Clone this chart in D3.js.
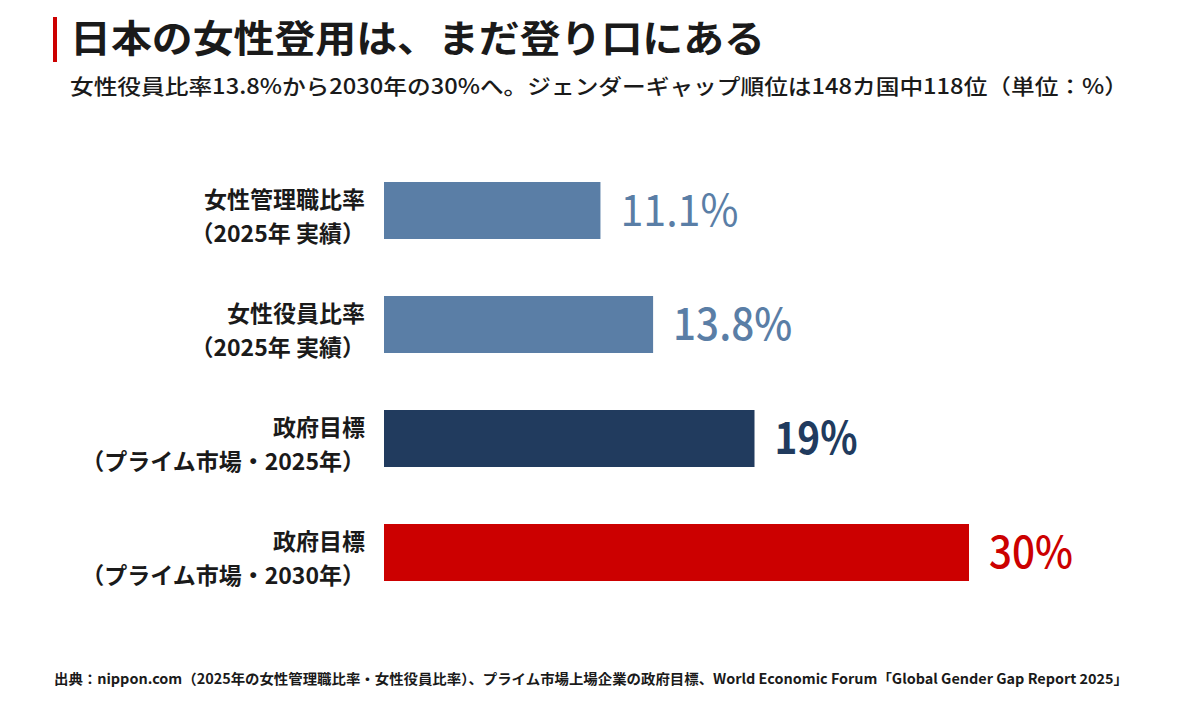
<!DOCTYPE html>
<html><head><meta charset="utf-8">
<script src="https://cdn.jsdelivr.net/npm/d3@7/dist/d3.min.js"></script>
<style>body{margin:0;background:#fff;} svg{display:block;font-family:"Noto Sans CJK JP","Noto Sans",sans-serif;}</style>
</head><body><svg id="c" width="1200" height="708"></svg>
<script>
const labelsLine1 = ["女性管理職比率", "女性役員比率", "政府目標", "政府目標"];
const labelsLine2 = ["（2025年 実績）", "（2025年 実績）", "（プライム市場・2025年）", "（プライム市場・2030年）"];
const values = [11.1, 13.8, 19, 30];
const valueLabels = ["11.1%", "13.8%", "19%", "30%"];
const colors = ["#5a7ea6", "#5a7ea6", "#213b5e", "#cc0000"];
const valueWeights = [400, 500, 700, 500];
const title = "日本の女性登用は、まだ登り口にある";
const subtitle = "女性役員比率13.8%から2030年の30%へ。ジェンダーギャップ順位は148カ国中118位（単位：%）";
const source = "出典：nippon.com（2025年の女性管理職比率・女性役員比率）、プライム市場上場企業の政府目標、World Economic Forum「Global Gender Gap Report 2025」";

const svg = d3.select("#c");
const x = d3.scaleLinear().domain([0, 30]).range([384, 969]);
const y = d3.scaleBand().domain(d3.range(values.length)).range([153.5, 609.5]).paddingInner(0.5).paddingOuter(0.25);

svg.append("rect").attr("x", 53).attr("y", 17).attr("width", 4).attr("height", 45).attr("fill", "#cc0000");
svg.append("text").attr("x", 70).attr("y", 52).attr("font-size", 38).attr("font-weight", 700).attr("fill", "#1a1a1a")
  .attr("textLength", 695).attr("lengthAdjust", "spacingAndGlyphs").text(title);
svg.append("text").attr("x", 70).attr("y", 94).attr("font-size", 21).attr("font-weight", 500).attr("fill", "#1a1a1a")
  .attr("textLength", 1058).attr("lengthAdjust", "spacingAndGlyphs").text(subtitle);

const g = svg.append("g");
g.selectAll("rect.bar").data(values).join("rect").attr("class", "bar")
  .attr("x", x(0)).attr("y", (d, i) => y(i)).attr("width", d => x(d) - x(0)).attr("height", y.bandwidth())
  .attr("fill", (d, i) => colors[i]);

const valW = [118, 119, 83, 84];
g.selectAll("text.val").data(values).join("text").attr("class", "val")
  .attr("x", d => x(d) + 20).attr("y", (d, i) => y(i) + y.bandwidth() / 2 + 15)
  .attr("font-size", 44).attr("font-weight", (d, i) => valueWeights[i]).attr("fill", (d, i) => colors[i])
  .attr("textLength", (d, i) => valW[i]).attr("lengthAdjust", "spacingAndGlyphs")
  .text((d, i) => valueLabels[i]);

g.selectAll("text.l1").data(labelsLine1).join("text").attr("class", "l1")
  .attr("x", 365).attr("y", (d, i) => y(i) + y.bandwidth() / 2 - 3).attr("text-anchor", "end")
  .attr("font-size", 23).attr("font-weight", 700).attr("fill", "#1a1a1a").text(d => d);
g.selectAll("text.l2").data(labelsLine2).join("text").attr("class", "l2")
  .attr("x", 365).attr("y", (d, i) => y(i) + y.bandwidth() / 2 + 31).attr("text-anchor", "end")
  .attr("font-size", 23).attr("font-weight", 700).attr("fill", "#1a1a1a").text(d => d);

svg.append("text").attr("x", 54).attr("y", 684).attr("font-size", 14).attr("font-weight", 700).attr("fill", "#1a1a1a")
  .attr("textLength", 1074).attr("lengthAdjust", "spacingAndGlyphs").text(source);
</script></body></html>
